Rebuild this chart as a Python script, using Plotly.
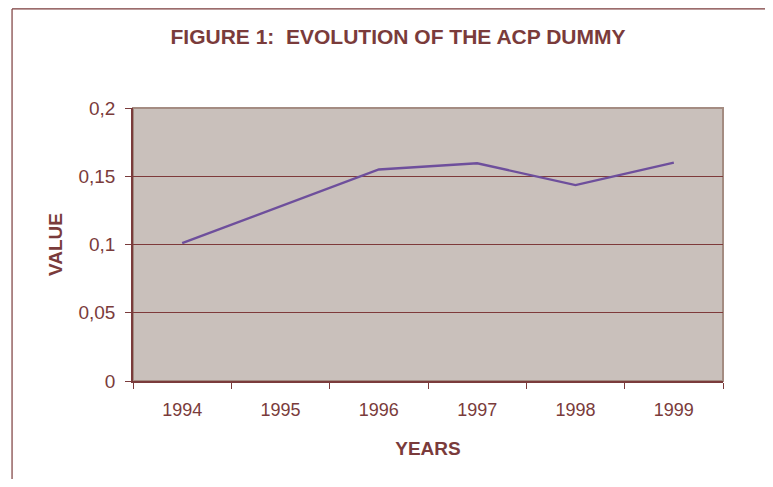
import plotly.graph_objects as go

years = ["1994", "1995", "1996", "1997", "1998", "1999"]
x_plot = ["1994", "1996", "1997", "1998", "1999"]
y_plot = [0.101, 0.155, 0.1595, 0.1435, 0.160]
y_ticks = [0, 0.05, 0.1, 0.15, 0.2]

DARK = "#7A3B3B"
W, H = 757, 471
fig = go.Figure()
fig.add_trace(go.Scatter(x=x_plot, y=y_plot, mode="lines",
                         line=dict(color="#6E4F9C", width=2.4)))

fnt = "Liberation Sans, Arial, sans-serif"
fig.update_layout(
    width=W, height=H,
    margin=dict(l=125, r=42, t=100, b=98),
    paper_bgcolor="white", plot_bgcolor="#C9C0BB",
    separators=",.",
    showlegend=False,
    title=dict(text="<b>FIGURE 1:  EVOLUTION OF THE ACP DUMMY</b>",
               x=390 / W, xanchor="center", y=1 - 29 / H, yanchor="middle",
               font=dict(family=fnt, size=21, color=DARK)),
    font=dict(family=fnt, color=DARK),
    xaxis=dict(type="category", categoryorder="array", categoryarray=years,
               range=[-0.5, 5.5], tickmode="array", tickvals=years,
               tickson="boundaries", ticks="outside", ticklen=6,
               tickcolor=DARK, showline=True, linecolor=DARK, linewidth=1.5,
               showgrid=False, tickfont=dict(size=18, color=DARK),
               ticklabelstandoff=12,
               title=dict(text="<b>YEARS</b>", font=dict(size=19, color=DARK), standoff=22)),
    yaxis=dict(range=[0, 0.2], tickvals=y_ticks,
               ticks="outside", ticklen=6, tickcolor=DARK,
               showline=True, linecolor=DARK, linewidth=1.5,
               showgrid=True, gridcolor="#7E3A3A", gridwidth=1, zeroline=False,
               tickfont=dict(size=19, color=DARK), ticklabelstandoff=6,
               title=dict(text="<b>VALUE</b>", font=dict(size=19, color=DARK), standoff=11)),
)
# plot area frame (light top/right edges)
fig.add_shape(type="rect", xref="paper", yref="paper", x0=0, y0=0, x1=1, y1=1,
              line=dict(color="#A48C82", width=2), layer="below")
# outer chart frame (top and left edges only)
fig.add_shape(type="line", xref="paper", yref="paper", x0=-0.205, x1=1.0712, y0=1.363, y1=1.363,
              line=dict(color=DARK, width=1.2))
fig.add_shape(type="line", xref="paper", yref="paper", x0=-0.205, x1=-0.205, y0=1.363, y1=-0.5,
              line=dict(color=DARK, width=1.2))
fig.write_html("out.html")
